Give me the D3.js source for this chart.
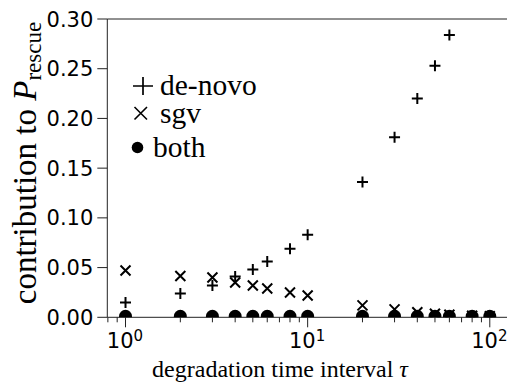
<!DOCTYPE html>
<html lang="en">
<head>
    <meta charset="UTF-8">
    <title>Contribution to rescue probability</title>
    <script src="https://d3js.org/d3.v7.min.js"></script>
    <style>
        body {
            margin: 0;
            background: #fff;
        }
        .tick-label {
            font-family: "DejaVu Sans", sans-serif;
            font-size: 21px;
            fill: #000;
        }
        .axis-title {
            font-family: "Liberation Serif", serif;
            fill: #000;
        }
        .legend text {
            font-family: "Liberation Serif", serif;
            font-size: 29.5px;
        }
        .spine, .tick-line {
            stroke: #222;
            stroke-width: 1;
            fill: none;
        }
    </style>
</head>
<body>
<svg id="chart" width="507" height="387"></svg>
<script>
    // values
    var tau    = [1, 2, 3, 4, 5, 6, 8, 10, 20, 30, 40, 50, 60, 80, 100];
    var deNovo = [0.015, 0.024, 0.032, 0.041, 0.048, 0.056, 0.069, 0.083, 0.136, 0.181, 0.220, 0.253, 0.284, 0.0005, 0.0005];
    var sgv    = [0.047, 0.0415, 0.040, 0.035, 0.032, 0.029, 0.025, 0.022, 0.012, 0.008, 0.005, 0.0035, 0.0025, 0.0015, 0.001];
    var both   = [0.001, 0.001, 0.001, 0.001, 0.001, 0.001, 0.001, 0.001, 0.001, 0.001, 0.001, 0.001, 0.001, 0.001, 0.001];
    var yTicks = [0, 0.05, 0.10, 0.15, 0.20, 0.25, 0.30];
    var xMajor = [1, 10, 100];
    var legendItems = ["de-novo", "sgv", "both"];

    // plot box (right edge runs just past the window)
    var box = {left: 107.3, top: 19, right: 508, bottom: 317.3};

    var svg = d3.select("#chart");

    var x = d3.scaleLog()
        .domain([Math.pow(10, -0.1), Math.pow(10, 2.1)])
        .range([box.left, box.right]);
    var y = d3.scaleLinear()
        .domain([0, 0.3])
        .range([box.bottom, box.top]);

    svg.append("defs").append("clipPath")
        .attr("id", "plot-clip")
      .append("rect")
        .attr("x", box.left).attr("y", box.top)
        .attr("width", box.right - box.left).attr("height", box.bottom - box.top);

    // y ticks + labels
    var yg = svg.append("g");
    yg.selectAll("line")
        .data(yTicks)
      .enter().append("line")
        .attr("class", "tick-line")
        .attr("x1", box.left - 10).attr("x2", box.left)
        .attr("y1", d => y(d)).attr("y2", d => y(d));
    yg.selectAll("text")
        .data(yTicks)
      .enter().append("text")
        .attr("class", "tick-label")
        .attr("x", box.left - 14)
        .attr("y", d => y(d))
        .attr("dy", "0.36em")
        .attr("text-anchor", "end")
        .text(d3.format(".2f"));

    // x ticks, major and minor
    var xAll = x.ticks().filter(d => x(d) >= box.left - 0.5 && x(d) <= box.right);
    var xg = svg.append("g");
    xg.selectAll("line")
        .data(xAll)
      .enter().append("line")
        .attr("class", "tick-line")
        .attr("x1", d => x(d)).attr("x2", d => x(d))
        .attr("y1", box.bottom)
        .attr("y2", d => box.bottom + (xMajor.indexOf(d) >= 0 ? 10 : 5));

    var xl = xg.selectAll("text")
        .data(xMajor)
      .enter().append("text")
        .attr("class", "tick-label")
        .attr("x", d => x(d) - 0.5)
        .attr("y", 348)
        .attr("text-anchor", "middle");
    xl.append("tspan").text("10");
    xl.append("tspan")
        .attr("dy", -7)
        .attr("font-size", 15)
        .text(d => Math.round(Math.log10(d)));

    // spines
    svg.append("path")
        .attr("class", "spine")
        .attr("d", "M" + box.right + "," + box.top + "H" + box.left + "V" + box.bottom + "H" + box.right);

    // markers
    var marks = svg.append("g").attr("clip-path", "url(#plot-clip)");
    var pts = (vals) => tau.map((t, i) => ({x: t, y: vals[i]}));

    marks.selectAll(".denovo")
        .data(pts(deNovo))
      .enter().append("path")
        .attr("class", "denovo")
        .attr("d", "M-5.5,0H5.5M0,-5.5V5.5")
        .attr("transform", d => "translate(" + x(d.x) + "," + y(d.y) + ")")
        .attr("stroke", "#000").attr("stroke-width", 2);

    marks.selectAll(".sgv")
        .data(pts(sgv))
      .enter().append("path")
        .attr("class", "sgv")
        .attr("d", "M-5,-5L5,5M-5,5L5,-5")
        .attr("transform", d => "translate(" + x(d.x) + "," + y(d.y) + ")")
        .attr("stroke", "#000").attr("stroke-width", 2);

    marks.selectAll(".both")
        .data(pts(both))
      .enter().append("circle")
        .attr("class", "both")
        .attr("cx", d => x(d.x))
        .attr("cy", d => y(d.y))
        .attr("r", 6.5)
        .attr("fill", "#000");

    // legend
    var legend = svg.append("g").attr("class", "legend");
    var legY = [95, 123, 157];
    legend.append("path")
        .attr("d", "M133,86H153M143,77V95")
        .attr("stroke", "#000").attr("stroke-width", 1.7);
    legend.append("path")
        .attr("d", "M134.5,107L147,119.5M134.5,119.5L147,107")
        .attr("stroke", "#000").attr("stroke-width", 1.6);
    legend.append("circle")
        .attr("cx", 137.5).attr("cy", 147.5).attr("r", 5.8)
        .attr("fill", "#000");
    legend.selectAll("text")
        .data(legendItems)
      .enter().append("text")
        .attr("x", (d, i) => i == 2 ? 153 : 160)
        .attr("y", (d, i) => legY[i])
        .text(d => d);

    // axis titles
    var xt = svg.append("text")
        .attr("class", "axis-title")
        .attr("x", 280).attr("y", 377)
        .attr("text-anchor", "middle")
        .attr("font-size", 24);
    xt.append("tspan").text("degradation time interval ");
    xt.append("tspan").attr("font-style", "italic").text("\u03c4");

    var yt = svg.append("text")
        .attr("class", "axis-title")
        .attr("transform", "translate(36,163) rotate(-90)")
        .attr("text-anchor", "middle")
        .attr("font-size", 33);
    yt.append("tspan").text("contribution to ");
    yt.append("tspan").attr("font-style", "italic").text("P");
    yt.append("tspan").attr("font-size", 23).attr("dy", 5).text("rescue");
</script>
</body>
</html>
